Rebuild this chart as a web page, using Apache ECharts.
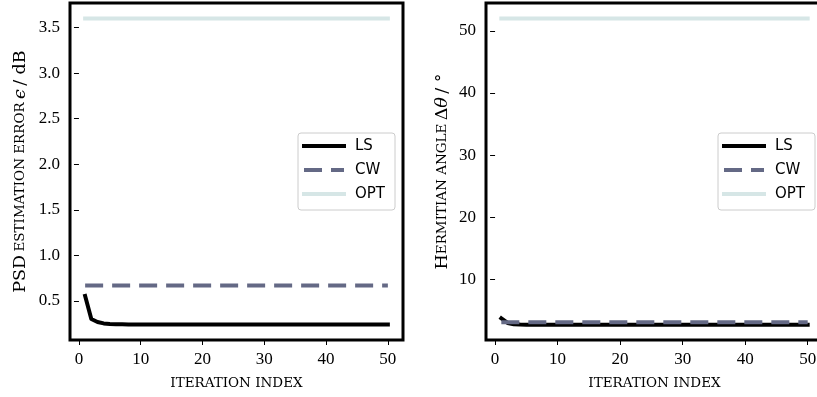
<!DOCTYPE html>
<html>
<head>
<meta charset="utf-8">
<script src="https://cdn.jsdelivr.net/npm/echarts@6/dist/echarts.min.js"></script>
<style>html,body{margin:0;padding:0;background:#fff}#c{width:817px;height:397px}</style>
</head>
<body>
<div id="c"></div>
<script>
// ---- data ----
const iterations = Array.from({length: 50}, (_, i) => i + 1);
const xTicks = [0, 10, 20, 30, 40, 50];
// left panel: PSD estimation error (dB)
const psdLS = [0.553, 0.300, 0.268, 0.252, 0.246, 0.243, 0.242, 0.241, 0.241, 0.240,
  0.240, 0.240, 0.240, 0.240, 0.240, 0.240, 0.240, 0.240, 0.240, 0.240,
  0.240, 0.240, 0.240, 0.240, 0.240, 0.240, 0.240, 0.240, 0.240, 0.240,
  0.240, 0.240, 0.240, 0.240, 0.240, 0.240, 0.240, 0.240, 0.240, 0.240,
  0.240, 0.240, 0.240, 0.240, 0.240, 0.240, 0.240, 0.240, 0.240, 0.240];
const psdCW = 0.668;
const psdOPT = 3.60;
const psdTicks = [0.5, 1.0, 1.5, 2.0, 2.5, 3.0, 3.5];
// right panel: Hermitian angle (degrees)
const angLS = [3.70, 2.95, 2.75, 2.68, 2.66, 2.65, 2.65, 2.65, 2.65, 2.65,
  2.65, 2.65, 2.65, 2.65, 2.65, 2.65, 2.65, 2.65, 2.65, 2.65,
  2.65, 2.65, 2.65, 2.65, 2.65, 2.65, 2.65, 2.65, 2.65, 2.65,
  2.65, 2.65, 2.65, 2.65, 2.65, 2.65, 2.65, 2.65, 2.65, 2.65,
  2.65, 2.65, 2.65, 2.65, 2.65, 2.65, 2.65, 2.65, 2.65, 2.65];
const angCW = 3.07;
const angOPT = 52.0;
const angTicks = [10, 20, 30, 40, 50];

const pairs = (ys) => iterations.map((x, i) => [x, ys[i]]);
const constPairs = (v) => iterations.map(x => [x, v]);

const tickFont = {fontFamily: 'Liberation Serif', fontSize: 17, color: '#000'};
const serif = 'DejaVu Serif';
const nameRich = {
  b: {fontFamily: serif, fontSize: 17.5, color: '#000'},
  s: {fontFamily: serif, fontSize: 13.5, color: '#000'},
  i: {fontFamily: serif, fontSize: 17.5, fontStyle: 'italic', color: '#000'}
};

function xAxis(idx) {
  return {
    type: 'value', gridIndex: idx, min: -1.45, max: 52.45,
    axisLine: {show: false}, splitLine: {show: false},
    axisTick: {show: true, length: 5, lineStyle: {color: '#000', width: 1}, customValues: xTicks},
    axisLabel: Object.assign({margin: 11, customValues: xTicks, showMinLabel: true, showMaxLabel: true}, tickFont),
    name: '{s|ITERATION INDEX}', nameLocation: 'middle', nameGap: 36,
    nameTextStyle: {rich: nameRich}
  };
}

const colLS = '#000000', colCW = '#646985', colOPT = '#d6e6e6';

function seriesFor(idx, ls, cw, opt) {
  return [
    {name: 'OPT', type: 'line', xAxisIndex: idx, yAxisIndex: idx, data: constPairs(opt), symbol: 'none',
      lineStyle: {color: colOPT, width: 4, cap: 'square'}, itemStyle: {color: colOPT}, z: 2, silent: true},
    {name: 'LS', type: 'line', xAxisIndex: idx, yAxisIndex: idx, data: pairs(ls), symbol: 'none',
      lineStyle: {color: colLS, width: 4, cap: 'square', join: 'round'}, itemStyle: {color: colLS}, z: 3, silent: true},
    {name: 'CW', type: 'line', xAxisIndex: idx, yAxisIndex: idx, data: constPairs(cw), symbol: 'none',
      lineStyle: {color: colCW, width: 4, type: [18, 9], cap: 'butt'}, itemStyle: {color: colCW}, z: 4, silent: true}
  ];
}

function legendFor(left) {
  return {
    orient: 'vertical', left: left, top: 133, data: ['LS', 'CW', 'OPT'],
    itemWidth: 40, itemHeight: 16, itemGap: 8,
    padding: [5, 10, 8, 4],
    itemStyle: {opacity: 0},
    lineStyle: {width: 4},
    backgroundColor: 'rgba(255,255,255,0.8)', borderColor: '#cccccc', borderWidth: 1, borderRadius: 3,
    textStyle: {fontFamily: 'DejaVu Sans', fontSize: 15, lineHeight: 16, color: '#000', padding: [0, 0, 0, 6]},
    selectedMode: false
  };
}

const chart = echarts.init(document.getElementById('c'), null, {renderer: 'canvas'});
chart.setOption({
  animation: false,
  backgroundColor: '#fff',
  grid: [
    {left: 70, top: 3, width: 333, height: 337, outerBoundsMode: 'none', containLabel: false,
      show: true, borderColor: '#000', borderWidth: 3, backgroundColor: 'transparent'},
    {left: 486, top: 3, width: 337, height: 337, outerBoundsMode: 'none', containLabel: false,
      show: true, borderColor: '#000', borderWidth: 3, backgroundColor: 'transparent'}
  ],
  xAxis: [xAxis(0), xAxis(1)],
  yAxis: [
    {
      type: 'value', gridIndex: 0, min: 0.07, max: 3.77,
      axisLine: {show: false}, splitLine: {show: false},
      axisTick: {show: true, length: 5, lineStyle: {color: '#000', width: 1}, customValues: psdTicks},
      axisLabel: Object.assign({margin: 10, customValues: psdTicks, formatter: v => v.toFixed(1)}, tickFont),
      name: '{b|PSD} {s|ESTIMATION ERROR} {i|ϵ} {b|/ dB}', nameLocation: 'middle', nameRotate: 90, nameGap: 41,
      nameTextStyle: {rich: nameRich}
    },
    {
      type: 'value', gridIndex: 1, min: 0.2, max: 54.5,
      axisLine: {show: false}, splitLine: {show: false},
      axisTick: {show: true, length: 5, lineStyle: {color: '#000', width: 1}, customValues: angTicks},
      axisLabel: Object.assign({margin: 10, customValues: angTicks}, tickFont),
      name: '{b|H}{s|ERMITIAN ANGLE} {b|Δ}{i|θ} {b|/ °}', nameLocation: 'middle', nameRotate: 90, nameGap: 35,
      nameTextStyle: {rich: nameRich}
    }
  ],
  legend: [legendFor(298), legendFor(718)],
  series: [].concat(seriesFor(0, psdLS, psdCW, psdOPT), seriesFor(1, angLS, angCW, angOPT))
});
</script>
</body>
</html>
